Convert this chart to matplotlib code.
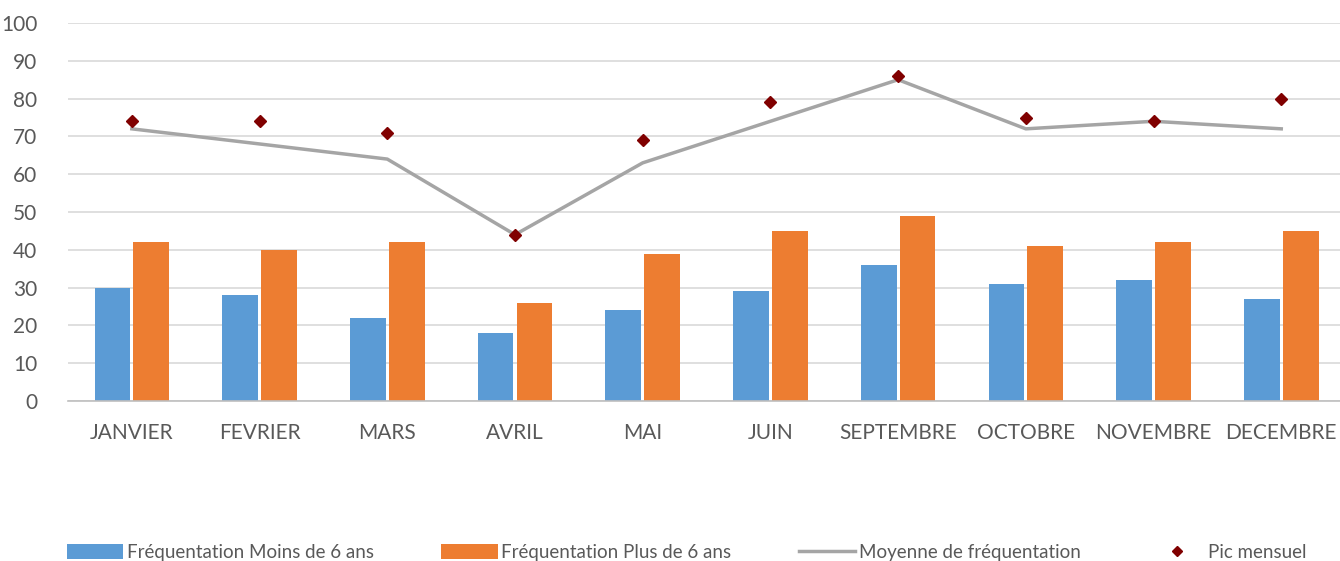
import numpy as np
import matplotlib
matplotlib.use('Agg')
import matplotlib.pyplot as plt

plt.rcParams['font.family'] = ['Lato', 'DejaVu Sans']

mois = ["JANVIER", "FEVRIER", "MARS", "AVRIL", "MAI", "JUIN",
        "SEPTEMBRE", "OCTOBRE", "NOVEMBRE", "DECEMBRE"]
moins_6 = [30, 28, 22, 18, 24, 29, 36, 31, 32, 27]
plus_6 = [42, 40, 42, 26, 39, 45, 49, 41, 42, 45]
moyenne = [72, 68, 64, 44, 63, 74, 85, 72, 74, 72]
pic = [74, 74, 71, 44, 69, 79, 86, 75, 74, 80]

fig = plt.figure(figsize=(13.4, 5.61), dpi=100)
ax = fig.add_axes([68 / 1340, 160 / 561, 1 - 68 / 1340, 378 / 561])

x = np.arange(len(mois))
w = 0.28
b1 = ax.bar(x - 0.152, moins_6, w, color='#5B9BD5', label='Fréquentation Moins de 6 ans', zorder=2)
b2 = ax.bar(x + 0.152, plus_6, w, color='#ED7D31', label='Fréquentation Plus de 6 ans', zorder=2)
l1, = ax.plot(x, moyenne, color='#A5A5A5', lw=2.5, label='Moyenne de fréquentation', zorder=3)
l2, = ax.plot(x, pic, ls='none', marker='D', ms=6, color='#800000', label='Pic mensuel', zorder=4)

ax.set_ylim(0, 100)
ax.set_xlim(-0.5, 9.46)
ax.set_yticks(range(0, 101, 10))
ax.set_xticks(x)
ax.set_xticklabels(mois)
ax.grid(axis='y', color='#D9D9D9', lw=1.2, zorder=0)
for s in ['top', 'right', 'left']:
    ax.spines[s].set_visible(False)
ax.spines['bottom'].set_color('#BFBFBF')
ax.spines['bottom'].set_linewidth(1.2)
ax.tick_params(axis='both', length=0, labelsize=15, colors='#595959')
ax.tick_params(axis='y', pad=22)
ax.tick_params(axis='x', pad=16)

fig.legend(handles=[b1, b2, l1, l2], loc='lower left', bbox_to_anchor=(50 / 1340, -0.03),
           ncol=4, frameon=False, fontsize=13.5, labelcolor='#595959',
           handlelength=3.0, handleheight=0.9, columnspacing=3.6, handletextpad=0.2,
           markerscale=0.8)

fig.savefig('out.png', dpi=100)
